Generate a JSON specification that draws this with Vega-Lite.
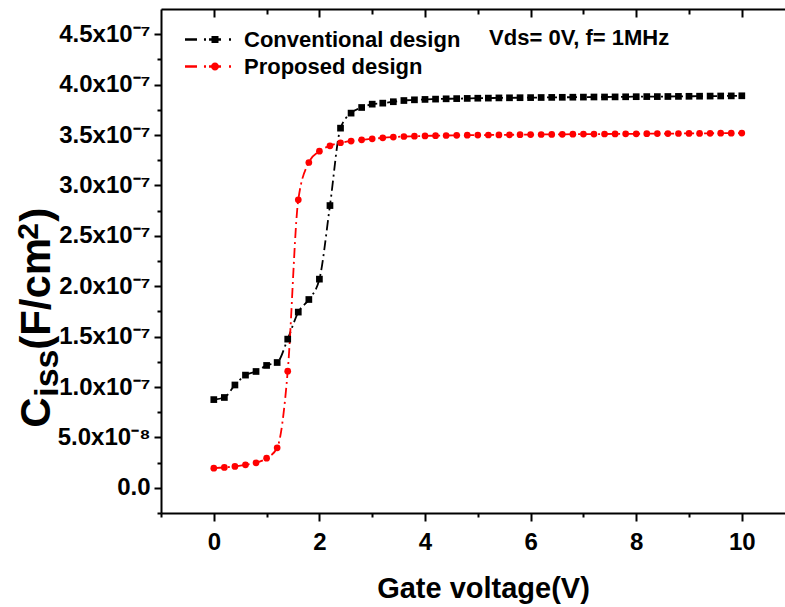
{
  "$schema": "https://vega.github.io/schema/vega-lite/v6.json",
  "autosize": "none",
  "width": 624,
  "height": 504,
  "padding": {"left": 161, "top": 9, "right": 0, "bottom": 94},
  "background": "white",
  "config": {
    "view": {"stroke": null},
    "font": "Liberation Sans",
    "axis": {"grid": false, "domainColor": "#000", "tickColor": "#000", "domainWidth": 2, "tickWidth": 2, "labelColor": "#000", "titleColor": "#000", "labelFont": "Liberation Sans", "titleFont": "Liberation Sans", "labelFontWeight": "bold", "titleFontWeight": "bold"},
    "text": {"font": "Liberation Sans", "fontWeight": "bold", "color": "#000"}
  },
  "resolve": {"axis": {"x": "independent", "y": "independent"}},
  "layer": [
    {
      "data": {"name": "ciss"},
      "mark": {"type": "line", "interpolate": "monotone", "strokeWidth": 1.8, "strokeDash": [10, 4, 2, 4]},
      "encoding": {
        "x": {"field": "V", "type": "quantitative",
          "scale": {"domain": [-1, 10.818], "nice": false, "zero": false},
          "axis": {"orient": "bottom", "values": [0, 2, 4, 6, 8, 10], "tickSize": 8, "labelPadding": 9, "labelFontSize": 24,
            "title": "Gate voltage(V)", "titleFontSize": 29, "titleX": 322, "titleY": 84, "titleBaseline": "alphabetic", "titleAlign": "center", "titleAnchor": null}},
        "y": {"field": "C", "type": "quantitative",
          "scale": {"domain": [-2.5e-8, 4.75e-7], "nice": false, "zero": false},
          "axis": {"orient": "left", "values": [0, 5e-8, 1e-7, 1.5e-7, 2e-7, 2.5e-7, 3e-7, 3.5e-7, 4e-7, 4.5e-7], "tickSize": 7, "labelPadding": 4, "labelFontSize": 24, "labelBaseline": "middle",
            "labelExpr": "datum.value == 0 ? '0.0' : datum.value < 9e-8 ? format(datum.value * 1e8, '.1f') + 'x10⁻⁸' : format(datum.value * 1e7, '.1f') + 'x10⁻⁷'",
            "title": null}},
        "color": {"field": "series", "type": "nominal",
          "scale": {"domain": ["Conventional design", "Proposed design"], "range": ["#000000", "#ff0000"]},
          "legend": {
            "orient": "none", "legendX": 24, "legendY": 18, "title": null, "padding": 0,
            "symbolSize": 2304, "clipHeight": 25, "rowPadding": 2, "labelOffset": 11, "labelLimit": 400,
            "labelFont": "Liberation Sans", "labelFontWeight": "bold", "labelFontSize": 22, "labelColor": "#000", "labelBaseline": "middle",
            "encode": {"symbols": {"update": {
              "shape": {"signal": "datum.value === 'Proposed design' ? 'M-1,-0.05H-0.5V0.05H-1Z M-0.21,-0.05H-0.125V0.05H-0.21Z M0,-0.05H0.5V0.05H0Z M0.083,0A0.167,0.167 0 1,1 0.417,0A0.167,0.167 0 1,1 0.083,0Z M0.833,-0.05H0.917V0.05H0.833Z' : 'M-1,-0.05H-0.5V0.05H-1Z M-0.21,-0.05H-0.125V0.05H-0.21Z M0,-0.05H0.5V0.05H0Z M0.104,-0.146H0.396V0.146H0.104Z M0.833,-0.05H0.917V0.05H0.833Z'"},
              "fill": {"signal": "datum.value === 'Proposed design' ? '#ff0000' : '#000000'"},
              "fillOpacity": {"value": 1},
              "opacity": {"value": 1},
              "stroke": {"value": "transparent"},
              "strokeWidth": {"value": 0},
              "strokeDash": {"value": []},
              "size": {"value": 2304}
            }}}
          }}
      }
    },
    {
      "data": {"name": "ciss"},
      "transform": [{"filter": "datum.series === 'Conventional design'"}],
      "mark": {"type": "point", "shape": "square", "filled": true, "opacity": 1, "color": "#000000", "size": 45},
      "encoding": {
        "x": {"field": "V", "type": "quantitative",
          "axis": {"orient": "bottom", "values": [-1, 1, 3, 5, 7, 9], "tickSize": 4, "labels": false, "domain": false, "title": null}},
        "y": {"field": "C", "type": "quantitative",
          "axis": {"orient": "left", "values": [-2.5e-8, 2.5e-8, 7.5e-8, 1.25e-7, 1.75e-7, 2.25e-7, 2.75e-7, 3.25e-7, 3.75e-7, 4.25e-7], "tickSize": 4, "labels": false, "domain": false, "title": null}}
      }
    },
    {
      "data": {"name": "ciss"},
      "transform": [{"filter": "datum.series === 'Proposed design'"}],
      "mark": {"type": "point", "shape": "circle", "filled": true, "opacity": 1, "color": "#ff0000", "size": 45},
      "encoding": {
        "x": {"field": "V", "type": "quantitative", "axis": null},
        "y": {"field": "C", "type": "quantitative", "axis": null}
      }
    },
    {
      "data": {"values": [{}]},
      "mark": {"type": "text", "text": "Vds= 0V, f= 1MHz", "fontSize": 22, "align": "center", "baseline": "middle"},
      "encoding": {
        "x": {"datum": 6.92, "type": "quantitative",
          "axis": {"orient": "top", "values": [0, 2, 4, 6, 8, 10], "tickSize": -8, "labels": false, "title": null}},
        "y": {"datum": 4.46e-7, "type": "quantitative", "axis": null}
      }
    },
    {
      "data": {"values": [{}]},
      "mark": {"type": "text", "text": "C", "fontSize": 42, "angle": 270, "align": "left", "baseline": "alphabetic", "dy": -111},
      "encoding": {
        "x": {"datum": -1, "type": "quantitative",
          "axis": {"orient": "top", "values": [1, 3, 5, 7, 9], "tickSize": -5, "labels": false, "domain": false, "title": null}},
        "y": {"datum": 5.95e-8, "type": "quantitative", "axis": null}
      }
    },
    {
      "data": {"values": [{}]},
      "mark": {"type": "text", "text": "iss", "fontSize": 34, "angle": 270, "align": "left", "baseline": "alphabetic", "dy": -103},
      "encoding": {
        "x": {"datum": -1, "type": "quantitative", "axis": null},
        "y": {"datum": 9.03e-8, "type": "quantitative", "axis": null}
      }
    },
    {
      "data": {"values": [{}]},
      "mark": {"type": "text", "text": "(F/cm", "fontSize": 42, "angle": 270, "align": "left", "baseline": "alphabetic", "dy": -111},
      "encoding": {
        "x": {"datum": -1, "type": "quantitative", "axis": null},
        "y": {"datum": 1.369e-7, "type": "quantitative", "axis": null}
      }
    },
    {
      "data": {"values": [{}]},
      "mark": {"type": "text", "text": "2", "fontSize": 30, "angle": 270, "align": "left", "baseline": "alphabetic", "dy": -123},
      "encoding": {
        "x": {"datum": -1, "type": "quantitative", "axis": null},
        "y": {"datum": 2.46e-7, "type": "quantitative", "axis": null}
      }
    },
    {
      "data": {"values": [{}]},
      "mark": {"type": "text", "text": ")", "fontSize": 42, "angle": 270, "align": "left", "baseline": "alphabetic", "dy": -111},
      "encoding": {
        "x": {"datum": -1, "type": "quantitative", "axis": null},
        "y": {"datum": 2.639e-7, "type": "quantitative", "axis": null}
      }
    }
  ],
  "datasets": {
    "ciss": [
      {"series": "Conventional design", "V": 0.0, "C": 8.75e-8},
      {"series": "Conventional design", "V": 0.2, "C": 8.96e-8},
      {"series": "Conventional design", "V": 0.4, "C": 1.02e-7},
      {"series": "Conventional design", "V": 0.6, "C": 1.118e-7},
      {"series": "Conventional design", "V": 0.8, "C": 1.154e-7},
      {"series": "Conventional design", "V": 1.0, "C": 1.214e-7},
      {"series": "Conventional design", "V": 1.2, "C": 1.243e-7},
      {"series": "Conventional design", "V": 1.4, "C": 1.475e-7},
      {"series": "Conventional design", "V": 1.6, "C": 1.743e-7},
      {"series": "Conventional design", "V": 1.8, "C": 1.868e-7},
      {"series": "Conventional design", "V": 2.0, "C": 2.07e-7},
      {"series": "Conventional design", "V": 2.2, "C": 2.8e-7},
      {"series": "Conventional design", "V": 2.4, "C": 3.568e-7},
      {"series": "Conventional design", "V": 2.6, "C": 3.717e-7},
      {"series": "Conventional design", "V": 2.8, "C": 3.773e-7},
      {"series": "Conventional design", "V": 3.0, "C": 3.806e-7},
      {"series": "Conventional design", "V": 3.2, "C": 3.816e-7},
      {"series": "Conventional design", "V": 3.4, "C": 3.83e-7},
      {"series": "Conventional design", "V": 3.6, "C": 3.842e-7},
      {"series": "Conventional design", "V": 3.8, "C": 3.849e-7},
      {"series": "Conventional design", "V": 4.0, "C": 3.853e-7},
      {"series": "Conventional design", "V": 4.2, "C": 3.856e-7},
      {"series": "Conventional design", "V": 4.4, "C": 3.859e-7},
      {"series": "Conventional design", "V": 4.6, "C": 3.861e-7},
      {"series": "Conventional design", "V": 4.8, "C": 3.863e-7},
      {"series": "Conventional design", "V": 5.0, "C": 3.865e-7},
      {"series": "Conventional design", "V": 5.2, "C": 3.866e-7},
      {"series": "Conventional design", "V": 5.4, "C": 3.868e-7},
      {"series": "Conventional design", "V": 5.6, "C": 3.869e-7},
      {"series": "Conventional design", "V": 5.8, "C": 3.87e-7},
      {"series": "Conventional design", "V": 6.0, "C": 3.871e-7},
      {"series": "Conventional design", "V": 6.2, "C": 3.872e-7},
      {"series": "Conventional design", "V": 6.4, "C": 3.873e-7},
      {"series": "Conventional design", "V": 6.6, "C": 3.874e-7},
      {"series": "Conventional design", "V": 6.8, "C": 3.875e-7},
      {"series": "Conventional design", "V": 7.0, "C": 3.876e-7},
      {"series": "Conventional design", "V": 7.2, "C": 3.877e-7},
      {"series": "Conventional design", "V": 7.4, "C": 3.877e-7},
      {"series": "Conventional design", "V": 7.6, "C": 3.878e-7},
      {"series": "Conventional design", "V": 7.8, "C": 3.879e-7},
      {"series": "Conventional design", "V": 8.0, "C": 3.88e-7},
      {"series": "Conventional design", "V": 8.2, "C": 3.881e-7},
      {"series": "Conventional design", "V": 8.4, "C": 3.881e-7},
      {"series": "Conventional design", "V": 8.6, "C": 3.882e-7},
      {"series": "Conventional design", "V": 8.8, "C": 3.883e-7},
      {"series": "Conventional design", "V": 9.0, "C": 3.884e-7},
      {"series": "Conventional design", "V": 9.2, "C": 3.885e-7},
      {"series": "Conventional design", "V": 9.4, "C": 3.886e-7},
      {"series": "Conventional design", "V": 9.6, "C": 3.887e-7},
      {"series": "Conventional design", "V": 9.8, "C": 3.888e-7},
      {"series": "Conventional design", "V": 10.0, "C": 3.889e-7},
      {"series": "Proposed design", "V": 0.0, "C": 1.95e-8},
      {"series": "Proposed design", "V": 0.2, "C": 2.02e-8},
      {"series": "Proposed design", "V": 0.4, "C": 2.12e-8},
      {"series": "Proposed design", "V": 0.6, "C": 2.28e-8},
      {"series": "Proposed design", "V": 0.8, "C": 2.48e-8},
      {"series": "Proposed design", "V": 1.0, "C": 2.94e-8},
      {"series": "Proposed design", "V": 1.2, "C": 3.97e-8},
      {"series": "Proposed design", "V": 1.4, "C": 1.157e-7},
      {"series": "Proposed design", "V": 1.6, "C": 2.857e-7},
      {"series": "Proposed design", "V": 1.8, "C": 3.227e-7},
      {"series": "Proposed design", "V": 2.0, "C": 3.34e-7},
      {"series": "Proposed design", "V": 2.2, "C": 3.393e-7},
      {"series": "Proposed design", "V": 2.4, "C": 3.423e-7},
      {"series": "Proposed design", "V": 2.6, "C": 3.44e-7},
      {"series": "Proposed design", "V": 2.8, "C": 3.452e-7},
      {"series": "Proposed design", "V": 3.0, "C": 3.462e-7},
      {"series": "Proposed design", "V": 3.2, "C": 3.472e-7},
      {"series": "Proposed design", "V": 3.4, "C": 3.479e-7},
      {"series": "Proposed design", "V": 3.6, "C": 3.485e-7},
      {"series": "Proposed design", "V": 3.8, "C": 3.488e-7},
      {"series": "Proposed design", "V": 4.0, "C": 3.491e-7},
      {"series": "Proposed design", "V": 4.2, "C": 3.493e-7},
      {"series": "Proposed design", "V": 4.4, "C": 3.495e-7},
      {"series": "Proposed design", "V": 4.6, "C": 3.497e-7},
      {"series": "Proposed design", "V": 4.8, "C": 3.498e-7},
      {"series": "Proposed design", "V": 5.0, "C": 3.499e-7},
      {"series": "Proposed design", "V": 5.2, "C": 3.5e-7},
      {"series": "Proposed design", "V": 5.4, "C": 3.501e-7},
      {"series": "Proposed design", "V": 5.6, "C": 3.502e-7},
      {"series": "Proposed design", "V": 5.8, "C": 3.503e-7},
      {"series": "Proposed design", "V": 6.0, "C": 3.504e-7},
      {"series": "Proposed design", "V": 6.2, "C": 3.505e-7},
      {"series": "Proposed design", "V": 6.4, "C": 3.506e-7},
      {"series": "Proposed design", "V": 6.6, "C": 3.507e-7},
      {"series": "Proposed design", "V": 6.8, "C": 3.508e-7},
      {"series": "Proposed design", "V": 7.0, "C": 3.509e-7},
      {"series": "Proposed design", "V": 7.2, "C": 3.509e-7},
      {"series": "Proposed design", "V": 7.4, "C": 3.51e-7},
      {"series": "Proposed design", "V": 7.6, "C": 3.511e-7},
      {"series": "Proposed design", "V": 7.8, "C": 3.512e-7},
      {"series": "Proposed design", "V": 8.0, "C": 3.512e-7},
      {"series": "Proposed design", "V": 8.2, "C": 3.513e-7},
      {"series": "Proposed design", "V": 8.4, "C": 3.514e-7},
      {"series": "Proposed design", "V": 8.6, "C": 3.514e-7},
      {"series": "Proposed design", "V": 8.8, "C": 3.515e-7},
      {"series": "Proposed design", "V": 9.0, "C": 3.516e-7},
      {"series": "Proposed design", "V": 9.2, "C": 3.516e-7},
      {"series": "Proposed design", "V": 9.4, "C": 3.517e-7},
      {"series": "Proposed design", "V": 9.6, "C": 3.518e-7},
      {"series": "Proposed design", "V": 9.8, "C": 3.518e-7},
      {"series": "Proposed design", "V": 10.0, "C": 3.519e-7}
    ]
  }
}
